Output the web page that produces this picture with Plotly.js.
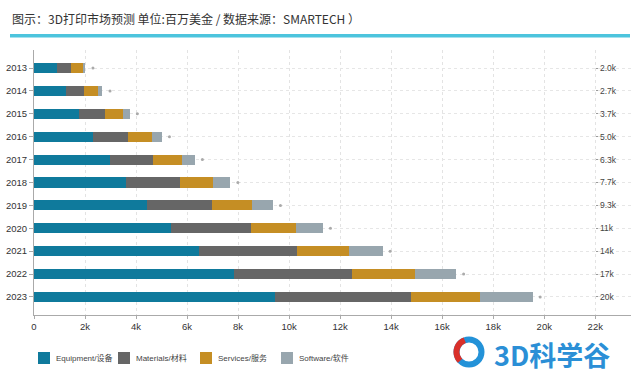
<!DOCTYPE html>
<html>
<head>
<meta charset="utf-8">
<script src="https://cdn.plot.ly/plotly-3.0.1.min.js"></script>
<style>html,body{margin:0;padding:0;background:#fff;}#chart{width:640px;height:378px;}</style>
</head>
<body>
<div id="chart"></div>
<script>
// Values in million USD
const years = ['2013','2014','2015','2016','2017','2018','2019','2020','2021','2022','2023'];
const equipment = [910, 1250, 1780, 2330, 2980, 3620, 4420, 5360, 6480, 7840, 9460];
const materials = [540, 710, 990, 1360, 1690, 2110, 2560, 3140, 3820, 4640, 5310];
const services  = [480, 560, 730, 950, 1150, 1300, 1560, 1770, 2030, 2460, 2720];
const software  = [80, 160, 250, 370, 480, 660, 820, 1050, 1330, 1600, 2050];
const totalLabels = ['2.0k','2.7k','3.7k','5.0k','6.3k','7.7k','9.3k','11k','14k','17k','20k'];
const seriesNames = ['Equipment/设备','Materials/材料','Services/服务','Software/软件'];

const totals = years.map((_, i) => equipment[i] + materials[i] + services[i] + software[i]);

const colors = ['#0f7a9c', '#666666', '#c58e24', '#98a6ae'];
const seriesData = [equipment, materials, services, software];

const FONT = 'Liberation Sans, Arial, "Noto Sans CJK SC", sans-serif';

const traces = seriesData.map((vals, k) => ({
  type: 'bar', orientation: 'h', name: seriesNames[k],
  x: vals, y: years, marker: {color: colors[k], line: {width: 0}},
  hoverinfo: 'x+name', showlegend: false
}));

// small dot after each bar (placed just after the bar end)
traces.push({
  type: 'scatter', mode: 'markers', x: totals.map(t => t + 300), y: years,
  yaxis: 'y2', showlegend: false, hoverinfo: 'skip',
  marker: {size: 3, color: '#aaaaaa'}
});

const L = 34, R = 631, T = 50, B = 315;
const pw = R - L, ph = B - T;
const px = v => (v - L) / pw;
const py = v => (B - v) / ph;

// logo ring geometry (pixels -> paper)
const cx = 469, cy = 352, rr = 12.5;
function arcPath(a0, a1, n) {
  let d = '';
  for (let i = 0; i <= n; i++) {
    const a = (a0 + (a1 - a0) * i / n) * Math.PI / 180;
    const X = px(cx + rr * Math.cos(a)), Y = py(cy - rr * Math.sin(a));
    d += (i === 0 ? 'M ' : ' L ') + X + ',' + Y;
  }
  return d;
}

const shapes = [
  {type: 'rect', xref: 'paper', yref: 'paper', x0: px(10), x1: px(630), y0: py(37.5), y1: py(34),
   fillcolor: '#4cc4dd', line: {width: 0}},
  {type: 'circle', xref: 'paper', yref: 'paper',
   x0: px(cx - rr), x1: px(cx + rr), y0: py(cy + rr), y1: py(cy - rr),
   line: {color: '#2392d8', width: 6}},
  {type: 'path', xref: 'paper', yref: 'paper', path: arcPath(110, 225, 24),
   line: {color: '#d9302a', width: 6}}
];
const annotations = [
  {xref: 'paper', yref: 'paper', x: px(10), y: py(18), xanchor: 'left', yanchor: 'middle',
   text: '图示：3D打印市场预测 单位:百万美金 / 数据来源：SMARTECH ）', showarrow: false,
   font: {size: 12, color: '#333', family: '"Noto Sans CJK SC", sans-serif'}},
  {xref: 'paper', yref: 'paper', x: px(492), y: py(354), xanchor: 'left', yanchor: 'middle',
   text: '<b>3D科学谷</b>', showarrow: false,
   font: {size: 27, color: '#2b8fd6', family: '"Noto Sans CJK SC", sans-serif'}}
];

// legend drawn at the bottom, as in the reference
const legendX = [38, 118, 200, 281];
const legendY = 358;
seriesNames.forEach((name, k) => {
  shapes.push({type: 'rect', xref: 'paper', yref: 'paper',
    x0: px(legendX[k]), x1: px(legendX[k] + 12), y0: py(legendY + 6), y1: py(legendY - 6),
    fillcolor: colors[k], line: {width: 0}});
  annotations.push({xref: 'paper', yref: 'paper', x: px(legendX[k] + 16), y: py(legendY),
    xanchor: 'left', yanchor: 'middle', text: name, showarrow: false,
    font: {size: 8, color: '#444', family: FONT}});
});

const layout = {
  width: 640, height: 378,
  margin: {l: L, r: 640 - R, t: T, b: 378 - B},
  paper_bgcolor: '#fff', plot_bgcolor: '#fff',
  barmode: 'stack', bargap: 0.56,
  font: {family: FONT, color: '#333', size: 9},
  showlegend: false,
  xaxis: {
    range: [0, 23400], dtick: 2000, tick0: 0, tickformat: '~s',
    showline: true, linecolor: '#aaaaaa', linewidth: 1,
    ticks: 'outside', ticklen: 3, tickcolor: '#aaaaaa',
    showgrid: true, gridcolor: '#e3e3e3', griddash: 'dot', gridwidth: 1,
    zeroline: false, tickfont: {size: 9.5, color: '#333'}, fixedrange: true
  },
  yaxis: {
    type: 'category', categoryorder: 'array', categoryarray: years,
    range: [10.79, -0.79],
    showline: true, linecolor: '#aaaaaa', linewidth: 1,
    ticks: 'outside', ticklen: 4, tickcolor: '#aaaaaa',
    showgrid: true, gridcolor: '#e6e6e6', griddash: 'dot',
    tickfont: {size: 9.5, color: '#333'}, fixedrange: true
  },
  yaxis2: {
    type: 'category', categoryorder: 'array', categoryarray: years,
    range: [10.79, -0.79], overlaying: 'y', side: 'right',
    anchor: 'free', position: 22000 / 23400,
    tickmode: 'array', tickvals: years, ticktext: totalLabels,
    ticks: 'outside', ticklen: 2, tickcolor: '#999',
    showline: false, showgrid: false, zeroline: false,
    tickfont: {size: 8.5, color: '#444'}, fixedrange: true
  },
  shapes: shapes,
  annotations: annotations
};

Plotly.newPlot('chart', traces, layout, {displayModeBar: false, staticPlot: true});
</script>
</body>
</html>
